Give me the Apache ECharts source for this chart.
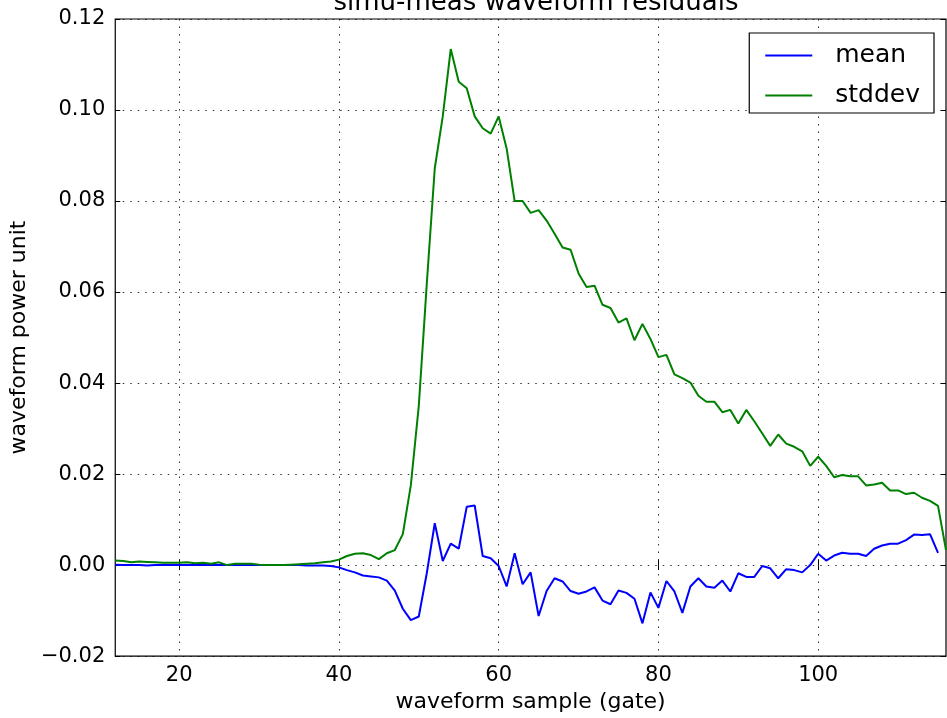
<!DOCTYPE html>
<html>
<head>
<meta charset="utf-8">
<script src="https://cdn.jsdelivr.net/npm/echarts@6/dist/echarts.min.js"></script>
<style>
html,body{margin:0;padding:0;background:#fff;}
#chart{width:947px;height:718px;}
</style>
</head>
<body>
<div id="chart"></div>
<script>
var gates = [12,13,14,15,16,17,18,19,20,21,22,23,24,25,26,27,28,29,30,31,32,33,34,35,36,37,38,39,40,
  41,42,43,44,45,46,47,48,49,50,51,52,53,54,55,56,57,58,59,60,61,62,63,64,65,66,67,68,69,70,
  71,72,73,74,75,76,77,78,79,80,81,82,83,84,85,86,87,88,89,90,91,92,93,94,95,96,97,98,99,100,
  101,102,103,104,105,106,107,108,109,110,111,112,113,114,115,116];

var meanValues = [0.0001,0.0,0.0,0.0,-0.0001,0.0,0.0,0.0,0.0,0.0,0.0,0.0,0.0,0.0,0.0,0.0,0.0,0.0,0.0,0.0,0.0,0.0,0.0,0.0,-0.0001,-0.0001,-0.0001,-0.0002,-0.0005,
  -0.0011,-0.0016,-0.0023,-0.0025,-0.0027,-0.0034,-0.0056,-0.0096,-0.0121,-0.0113,-0.0018,0.0092,0.0009,0.0047,0.0036,0.0128,0.0131,0.0020,0.0015,-0.0002,
  -0.0047,0.0026,-0.0042,-0.0016,-0.0112,-0.0057,-0.0029,-0.0036,-0.0057,-0.0063,
  -0.0058,-0.0049,-0.0078,-0.0086,-0.0056,-0.0061,-0.0074,-0.0128,-0.0060,-0.0094,
  -0.0035,-0.0058,-0.0105,-0.0047,-0.0029,-0.0047,-0.0050,-0.0034,-0.0058,-0.0018,
  -0.0026,-0.0026,-0.0002,-0.0007,-0.0029,-0.0009,-0.0011,-0.0016,0.0000,0.0025,
  0.0010,0.0021,0.0027,0.0025,0.0025,0.0020,0.0036,0.0043,0.0047,0.0047,0.0055,0.0067,0.0066,0.0068,0.0027,null];

var stdValues = [0.0010,0.0009,0.0006,0.0008,0.0007,0.0006,0.0005,0.0005,0.0005,0.0006,0.0004,0.0005,0.0003,0.0006,0.0000,0.0003,0.0003,0.0003,0.0001,0.0000,0.0000,0.0000,0.0001,0.0002,0.0003,0.0004,0.0006,0.0008,0.0012,
  0.0020,0.0025,0.0026,0.0022,0.0013,0.0026,0.0033,0.0068,0.0175,0.0350,0.0618,0.0872,0.0986,0.1134,0.1062,0.1048,0.0986,0.0960,0.0948,0.0986,
  0.0915,0.0800,0.0800,0.0774,0.0780,0.0757,0.0728,0.0698,0.0693,0.0641,
  0.0611,0.0614,0.0572,0.0565,0.0533,0.0542,0.0494,0.0530,0.0497,0.0457,
  0.0462,0.0419,0.0411,0.0401,0.0372,0.0359,0.0359,0.0336,0.0341,0.0311,
  0.0341,0.0316,0.0289,0.0262,0.0287,0.0267,0.0260,0.0250,0.0218,0.0238,
  0.0218,0.0193,0.0198,0.0195,0.0195,0.0175,0.0177,0.0181,0.0164,0.0164,0.0156,0.0159,0.0148,0.0141,0.0130,0.0033];

var xTicks = [20,40,60,80,100];
var seriesNames = ['mean','stddev'];
var titleText = 'simu-meas waveform residuals';
var xName = 'waveform sample (gate)';
var yName = 'waveform power unit';

function pairs(xs, ys){ var out=[]; for (var i=0;i<xs.length;i++){ out.push([xs[i], ys[i]===undefined?null:ys[i]]); } return out; }

var FONT = 'DejaVu Sans';
var chart = echarts.init(document.getElementById('chart'), null, {renderer:'canvas'});
var gridLine = {show:true, lineStyle:{color:'#000', width:1, type:[1.5,6], opacity:0.8}};
chart.setOption({
  animation:false,
  backgroundColor:'#fff',
  title:{text:titleText, left:531, textAlign:'center', top:-15,
    textStyle:{fontFamily:FONT, fontSize:26, fontWeight:'normal', color:'#000'}},
  grid:{left:114, right:1, top:19, bottom:53, show:true, borderColor:'#000', borderWidth:1.2, backgroundColor:'transparent'},
  legend:{
    right:13, top:33, orient:'vertical', backgroundColor:'#fff', borderColor:'#000', borderWidth:1.2,
    borderRadius:0, padding:[9,14,4,16], itemGap:13, itemWidth:47, itemHeight:2, icon:'rect',
    textStyle:{fontFamily:FONT, fontSize:25, lineHeight:27, color:'#000', padding:[0,0,0,18]},
    data:seriesNames
  },
  xAxis:[{
    type:'value', min:12, max:116, position:'bottom',
    name:xName, nameLocation:'middle', nameGap:26,
    nameTextStyle:{fontFamily:FONT, fontSize:22, color:'#000'},
    axisLine:{show:false},
    axisTick:{show:true, inside:true, length:5, customValues:xTicks, lineStyle:{color:'#000'}},
    axisLabel:{customValues:xTicks, fontFamily:FONT, fontSize:21, color:'#000', margin:9},
    splitLine:gridLine
  },{
    type:'value', min:12, max:116, position:'top',
    axisLine:{show:false},
    axisTick:{show:true, inside:true, length:5, customValues:xTicks, lineStyle:{color:'#000'}},
    axisLabel:{show:false}, splitLine:{show:false}
  }],
  yAxis:[{
    type:'value', min:-0.02, max:0.12, interval:0.02, position:'left',
    name:yName, nameLocation:'middle', nameGap:84, nameRotate:90,
    nameTextStyle:{fontFamily:FONT, fontSize:22, color:'#000'},
    axisLine:{show:false},
    axisTick:{show:true, inside:true, length:5, lineStyle:{color:'#000'}},
    axisLabel:{fontFamily:FONT, fontSize:21, color:'#000', margin:10,
      formatter:function(v){ var s=Math.abs(v).toFixed(2); return (v< -1e-9?'\u2212':'')+s; }},
    splitLine:gridLine
  },{
    type:'value', min:-0.02, max:0.12, interval:0.02, position:'right',
    axisLine:{show:false},
    axisTick:{show:true, inside:true, length:5, lineStyle:{color:'#000'}},
    axisLabel:{show:false}, splitLine:{show:false}
  }],
  series:[{
    name:seriesNames[0], type:'line', data:pairs(gates, meanValues), symbol:'none',
    lineStyle:{color:'#0000ff', width:2}, itemStyle:{color:'#0000ff'}, xAxisIndex:0, yAxisIndex:0, clip:true
  },{
    name:seriesNames[1], type:'line', data:pairs(gates, stdValues), symbol:'none',
    lineStyle:{color:'#008000', width:2}, itemStyle:{color:'#008000'}, xAxisIndex:0, yAxisIndex:0, clip:true
  }]
});
</script>
</body>
</html>
